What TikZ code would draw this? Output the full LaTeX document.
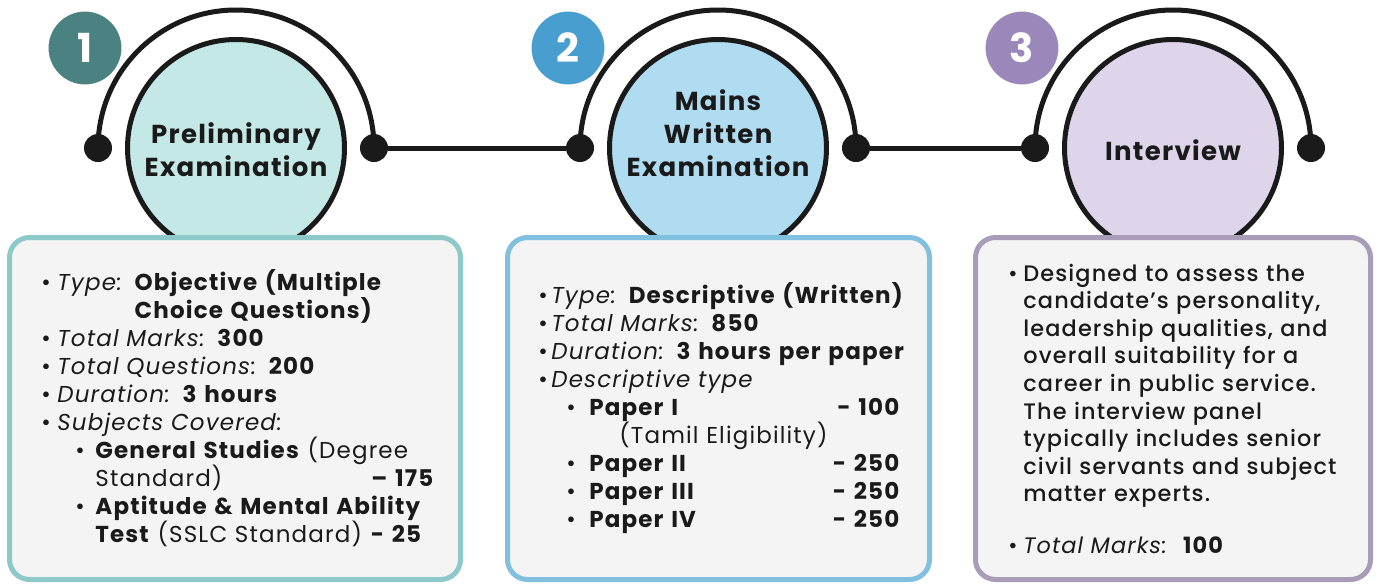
\documentclass[tikz,border=0pt]{standalone}
\usepackage{fontspec}
\setmainfont{Poppins}[LetterSpace=5]
\IfFontExistsTF{Poppins Medium}{\newfontfamily\medfont{Poppins Medium}[LetterSpace=5]}{\newcommand\medfont{\bfseries}}
\usepackage{xcolor}
\definecolor{ink}{HTML}{1A1A1A}
\definecolor{numA}{HTML}{4A8282}
\definecolor{fillA}{HTML}{C4E8E6}
\definecolor{edgeA}{HTML}{8DC9C9}
\definecolor{numB}{HTML}{489FCF}
\definecolor{fillB}{HTML}{B0DCF2}
\definecolor{edgeB}{HTML}{82C0E0}
\definecolor{numC}{HTML}{9B88BA}
\definecolor{fillC}{HTML}{DFD5EB}
\definecolor{edgeC}{HTML}{A89CB8}
\definecolor{panelbg}{HTML}{F4F4F4}
\newcommand\itm[1][8pt]{\makebox[#1][l]{\textbullet}}

\begin{document}
\begin{tikzpicture}[x=0.5pt,y=-0.5pt,
	stage/.style={circle,draw=ink,line width=2.5pt,minimum size=108.5pt,inner sep=0pt},
	title/.style={align=center,inner sep=0pt,text=ink,font=\bfseries\fontsize{13}{16.5}\selectfont},
	badge/.style={circle,draw=white,line width=1.5pt,minimum size=38pt,inner sep=0pt,text=white,font=\bfseries\fontsize{20}{24}\selectfont},
	knob/.style={circle,fill=ink,minimum size=14pt,inner sep=0pt},
	wire/.style={draw=ink,line width=2.5pt},
	panel/.style={line width=2.5pt,rounded corners=10pt,fill=panelbg},
	info/.style={anchor=base west,inner sep=0pt,align=left,text=ink,font=\fontsize{11.5}{14}\selectfont}]
	\useasboundingbox[fill=white] (0,0) rectangle (1382,584);

	% stages
	\node[stage,fill=fillA] (prelim) at (236,148) {};
	\node[stage,fill=fillB] (mains) at (718,148) {};
	\node[stage,fill=fillC] (interview) at (1173,148) {};
	\node[title] (prelimT) at (236,150) {Preliminary\\Examination};
	\node[title] (mainsT) at (718,133) {Mains\\Written\\Examination};
	\node[title] (interviewT) at (1173,150) {Interview};

	% arcs and knobs
	\foreach \c/\n in {236/A,718/B,1173/C}{
		\node[knob] (k\n1) at (\c-138,148) {};
		\node[knob] (k\n2) at (\c+138,148) {};
		\draw[wire] (k\n1.center) arc[start angle=180,end angle=0,radius=69pt];
	}
	\draw[wire] (kA2) -- (kB1);
	\draw[wire] (kB2) -- (kC1);

	\node[badge,fill=numA] (numA) at (85,48) {1};
	\node[badge,fill=numB] (numB) at (568,48) {2};
	\node[badge,fill=numC] (numC) at (1022,48) {3};

	% panels
	\draw[panel,draw=edgeA] (9.5,237.5) rectangle (460.5,579.5);
	\draw[panel,draw=edgeB] (507.5,237.5) rectangle (929.5,579.5);
	\draw[panel,draw=edgeC] (975.5,237.5) rectangle (1370.5,579.5);

	\node[info,text width=196.5pt] (prelimInfo) at (41,290) {%
		\itm\textit{Type:} \textbf{Objective (Multiple}\\
		\hspace*{8pt}\phantom{\textit{Type:} }\textbf{Choice Questions)}\\
		\itm\textit{Total Marks:} \textbf{300}\\
		\itm\textit{Total Questions:} \textbf{200}\\
		\itm\textit{Duration:} \textbf{3 hours}\\
		\itm\textit{Subjects Covered:}\\
		\hspace*{17pt}\itm[10pt]\textbf{General Studies} (Degree\\
		\hspace*{27pt}Standard)\hfill\textbf{– 175}\\
		\hspace*{17pt}\itm[10pt]\textbf{Aptitude \& Mental Ability}\\
		\hspace*{27pt}\textbf{Test} (SSLC Standard) \textbf{- 25}};

	\node[info,text width=181pt] (mainsInfo) at (538,303) {%
		\mbox{\itm[6.5pt]\textit{Type:} \textbf{Descriptive (Written)}}\\
		\itm[6.5pt]\textit{Total Marks:} \textbf{850}\\
		\mbox{\itm[6.5pt]\textit{Duration:} \textbf{3 hours per paper}}\\
		\itm[6.5pt]\textit{Descriptive type}\\
		\hspace*{14pt}\itm[11.5pt]\textbf{Paper I}\hfill\textbf{- 100}\\
		\hspace*{40.5pt}(Tamil Eligibility)\\
		\hspace*{14pt}\itm[11.5pt]\textbf{Paper II}\hfill\textbf{- 250}\\
		\hspace*{14pt}\itm[11.5pt]\textbf{Paper III}\hfill\textbf{- 250}\\
		\hspace*{14pt}\itm[11.5pt]\textbf{Paper IV}\hfill\textbf{- 250}};

	\node[info,text width=180pt,font=\fontsize{11.2}{13.8}\selectfont] (interviewInfo) at (1008,281) {%
		\itm[7.5pt]\parbox[t]{170pt}{\medfont Designed to assess the\\
		candidate’s personality,\\
		leadership qualities, and\\
		overall suitability for a\\
		career in public service.\\
		The interview panel\\
		typically includes senior\\
		civil servants and subject\\
		matter experts.}\\[13.8pt]
		\itm[7.5pt]\textit{Total Marks:}\ \ \textbf{100}};
\end{tikzpicture}
\end{document}
